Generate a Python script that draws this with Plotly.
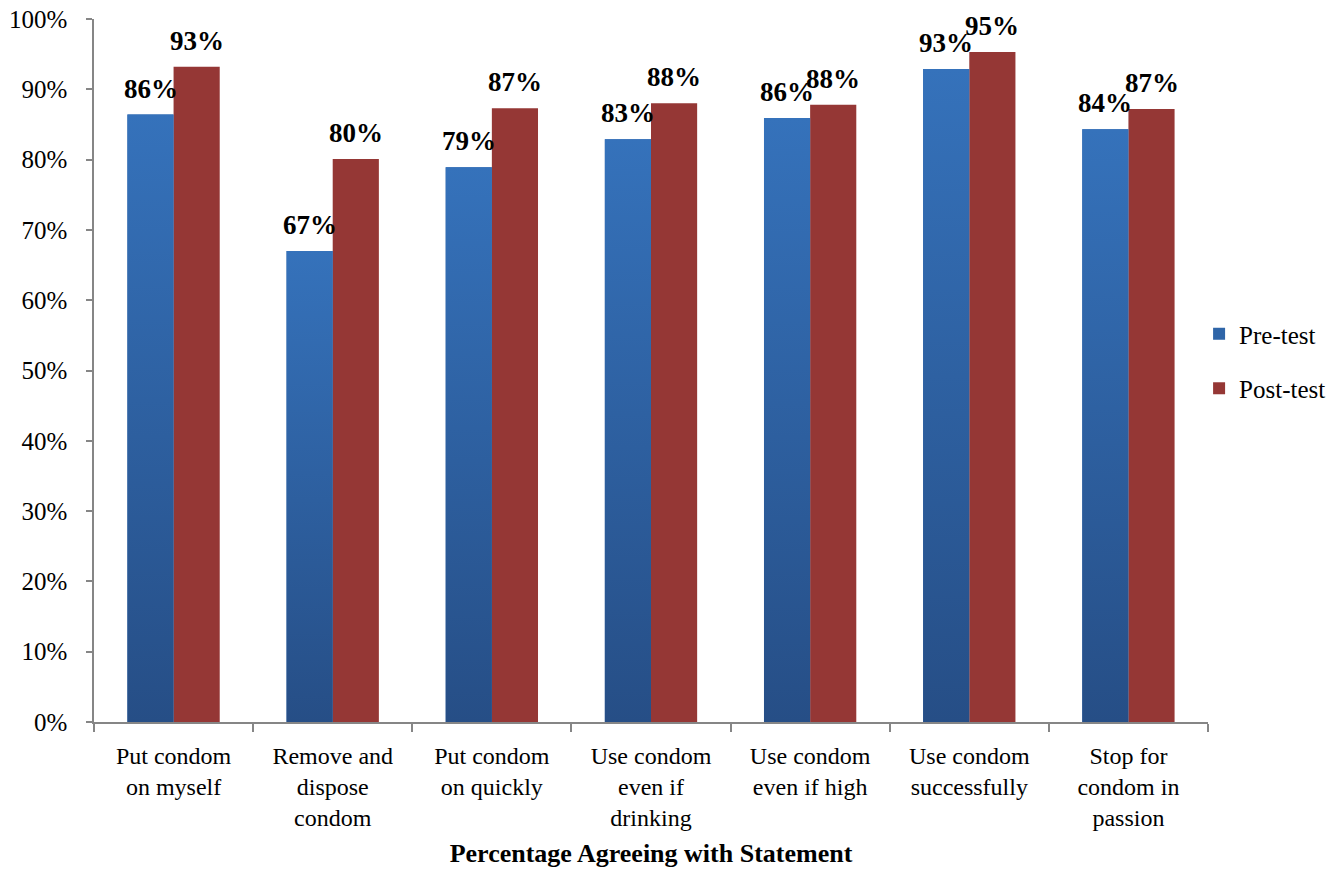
import plotly.graph_objects as go

# Survey statements (x categories) and share agreeing, before and after
categories = [
    "Put condom<br>on myself",
    "Remove and<br>dispose<br>condom",
    "Put condom<br>on quickly",
    "Use condom<br>even if<br>drinking",
    "Use condom<br>even if high",
    "Use condom<br>successfully",
    "Stop for<br>condom in<br>passion",
]
pre_test = [0.864, 0.670, 0.789, 0.829, 0.859, 0.929, 0.843]
post_test = [0.932, 0.801, 0.873, 0.880, 0.878, 0.953, 0.872]
y_ticks = [i / 10 for i in range(11)]

SERIF = "Liberation Serif"
BLUE = "#2f65a8"
BLUE_TOP = "#3572bb"
BLUE_BOTTOM = "#264e86"
RED = "#953735"
AXIS = "#868686"

BARGAP = 0.42
half = (1 - BARGAP) / 2  # width of one bar in a group of two
xs = list(range(len(categories)))

fig = go.Figure()
fig.add_trace(go.Bar(name="Pre-test", x=xs, y=pre_test, marker_color=BLUE,
                     marker_line_width=0, offset=-half, width=half,
                     legendgroup="a", hoverinfo="skip"))
fig.add_trace(go.Bar(name="Post-test", x=xs, y=post_test, marker_color=RED,
                     marker_line_width=0, offset=0, width=half,
                     legendgroup="b", hoverinfo="skip"))

# vertical gradient over each pre-test bar
for i, v in zip(xs, pre_test):
    fig.add_trace(go.Scatter(
        x=[i - half, i - half, i, i, i - half], y=[0, v, v, 0, 0],
        mode="none", fill="toself",
        fillgradient=dict(type="vertical", start=0, stop=v,
                          colorscale=[[0, BLUE_BOTTOM], [1, BLUE_TOP]]),
        showlegend=False, hoverinfo="skip"))

# value labels above the bars
for i, (a, b) in enumerate(zip(pre_test, post_test)):
    for xc, v in ((i - half / 2, a), (i + half / 2, b)):
        fig.add_annotation(x=xc, y=v, text=f"{v:.0%}", showarrow=False,
                           yanchor="bottom", yshift=9,
                           font=dict(family=SERIF, size=27, color="black",
                                     weight="bold"))

fig.update_layout(
    width=1340, height=869,
    margin=dict(l=94, r=132, t=19, b=147, autoexpand=False),
    paper_bgcolor="white", plot_bgcolor="white",
    font=dict(family=SERIF, size=25, color="black"),
    showlegend=True,
    legend=dict(x=0.992, xanchor="left", y=0.5135, yanchor="middle",
                font=dict(family=SERIF, size=25, color="black"),
                traceorder="grouped", tracegroupgap=19,
                bgcolor="rgba(0,0,0,0)"),
)
fig.update_xaxes(
    range=[-0.5, len(categories) - 0.5],
    tickvals=xs, ticktext=categories, ticks="",
    ticklabelstandoff=11, automargin=False,
    showline=True, linecolor=AXIS, linewidth=1.5,
    showgrid=False, zeroline=False,
    minor=dict(tickvals=[i - 0.5 for i in range(len(categories) + 1)],
               ticks="outside", ticklen=8, tickcolor=AXIS, tickwidth=1.5),
    title=dict(text="<b>Percentage Agreeing with Statement</b>",
               font=dict(family=SERIF, size=26), standoff=14),
    tickfont=dict(family=SERIF, size=24),
)
fig.update_yaxes(
    range=[0, 1], tickvals=y_ticks, tickformat=".0%",
    ticks="outside", ticklen=6, tickcolor=AXIS, tickwidth=1.5,
    ticklabelstandoff=14, automargin=False,
    showline=True, linecolor=AXIS, linewidth=1.5,
    showgrid=False, zeroline=False,
    tickfont=dict(family=SERIF, size=25),
)

fig.write_html("out.html")
